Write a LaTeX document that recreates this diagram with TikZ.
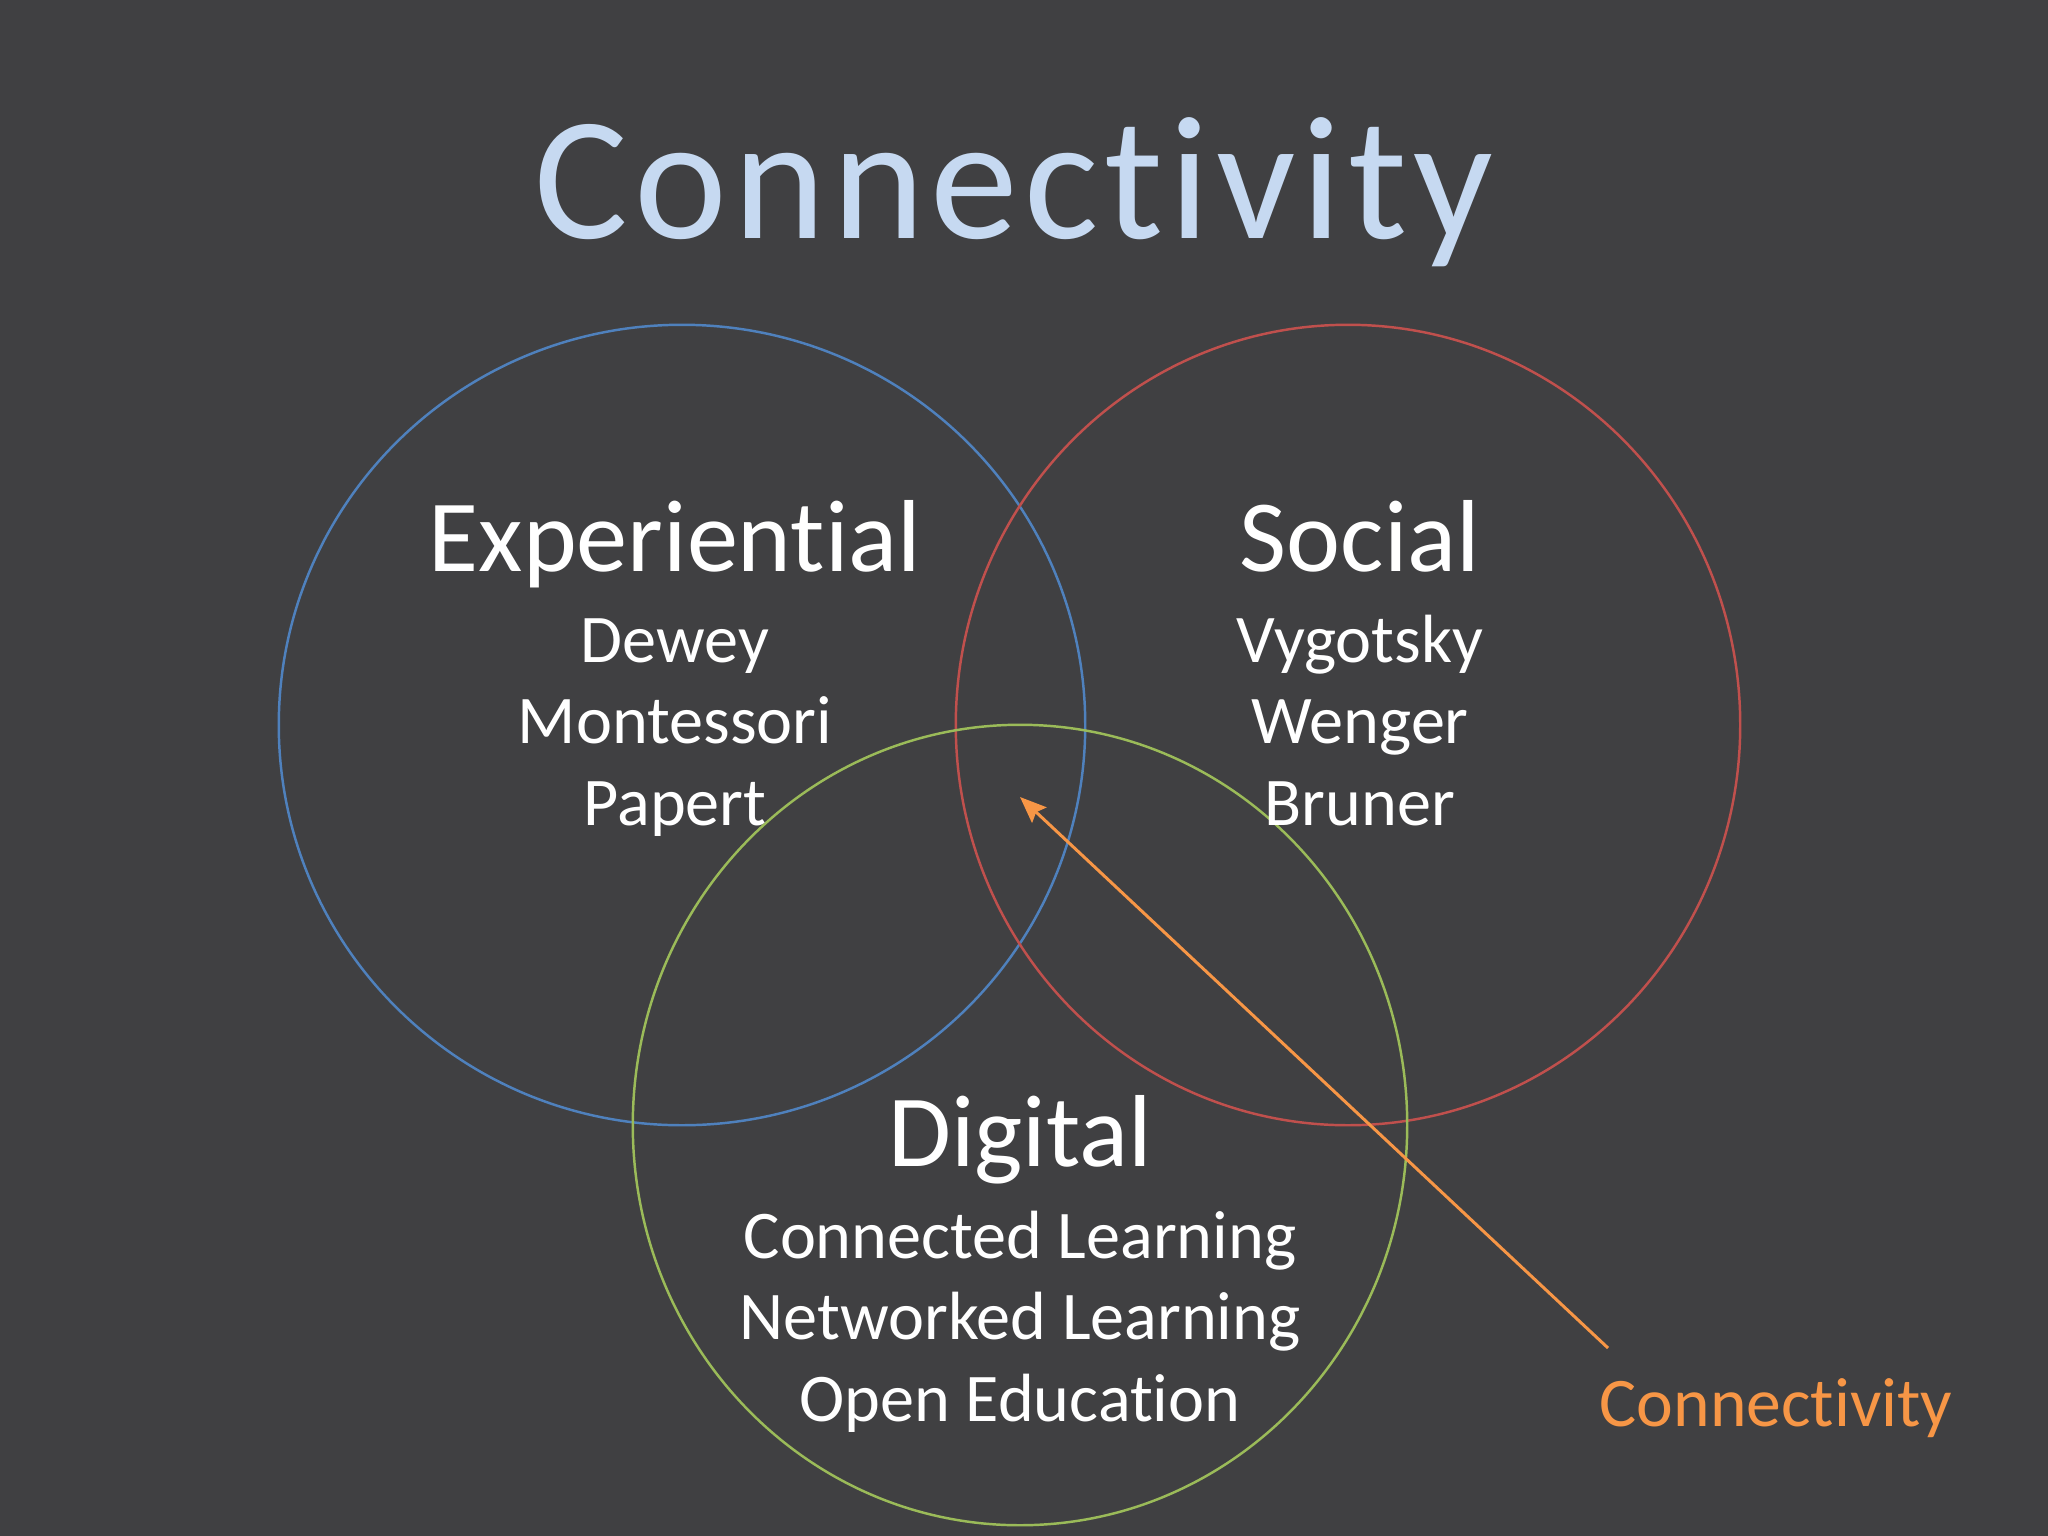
\documentclass[tikz,border=0pt]{standalone}
\usepackage{fontspec}
\setmainfont{Carlito}[Ligatures=NoCommon]
\newfontfamily\titlefont{Carlito}[Ligatures=NoCommon,LetterSpace=3.5]
\usetikzlibrary{arrows.meta,positioning}
\definecolor{slate}{RGB}{64,64,66}
\definecolor{titleblue}{RGB}{198,217,241}
\definecolor{expblue}{RGB}{79,129,189}
\definecolor{socred}{RGB}{192,80,77}
\definecolor{diggreen}{RGB}{155,187,89}
\definecolor{conorange}{RGB}{247,150,70}
\begin{document}
\begin{tikzpicture}[x=0.01cm,y=-0.01cm,
    ring/.style={line width=0.7pt},
    head/.style={text=white,font=\fontsize{29.1}{36}\selectfont,anchor=base,inner sep=0pt},
    names/.style={text=white,font=\fontsize{19.4}{23.1}\selectfont,align=center,anchor=base,inner sep=0pt},
    pointer/.style={draw=conorange,line width=0.85pt,-{Stealth[length=7.5pt,width=6pt,inset=1.2pt]}}]
  \fill[slate] (0,0) rectangle (2048,1536);
  \node[text=titleblue,font=\titlefont\fontsize{50}{60}\selectfont,anchor=base,inner sep=0pt] (title) at (1014,238) {Connectivity};

  % the three circles
  \draw[ring,expblue] (682,725) ellipse [x radius=4.03cm, y radius=4cm];
  \draw[ring,socred] (1348,725) ellipse [x radius=3.92cm, y radius=4cm];
  \draw[ring,diggreen] (1020,1125) ellipse [x radius=3.87cm, y radius=4cm];

  % last line of each list sits on the given point
  \node[head] (exp) at (675,571) {Experiential};
  \node[names] (expnames) at (675,825) {Dewey\\Montessori\\Papert};
  \node[head] (soc) at (1360,571) {Social};
  \node[names] (socnames) at (1360,825) {Vygotsky\\Wenger\\Bruner};
  \node[head] (dig) at (1020,1166) {Digital};
  \node[names] (dignames) at (1020,1421) {Connected Learning\\Networked Learning\\Open Education};

  \node[text=conorange,font=\fontsize{19.8}{24}\selectfont,anchor=base,inner sep=0pt] (conlabel) at (1776,1426) {Connectivity};
  \coordinate (hub) at (1020,797);
  \coordinate (tail) at (1608,1348);
  \draw[pointer] (tail) -- (hub);
\end{tikzpicture}
\end{document}
